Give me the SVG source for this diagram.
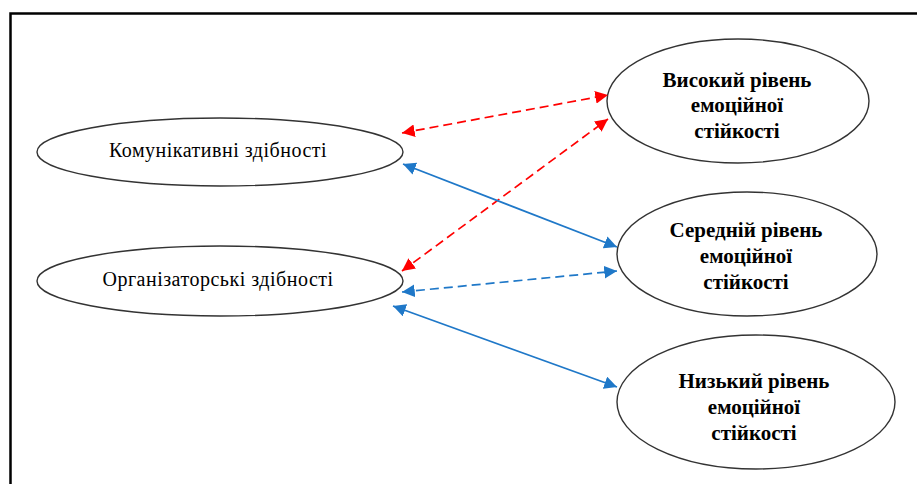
<svg xmlns="http://www.w3.org/2000/svg" width="917" height="484" viewBox="0 0 917 484">
<style>
.node{fill:#fff;stroke:#333;stroke-width:1.4}
.l{font-family:"Liberation Serif","Times New Roman","DejaVu Serif",serif;font-size:20px;letter-spacing:0.5px;fill:#000;text-anchor:middle}
.r{font-family:"Liberation Serif","Times New Roman","DejaVu Serif",serif;font-size:21px;font-weight:bold;fill:#000;text-anchor:middle}
.red{stroke:#ff0000;stroke-width:1.7;fill:none;stroke-dasharray:9 5}
.blue{stroke:#1f78c8;stroke-width:1.7;fill:none}
.bdash{stroke-dasharray:9 5}
</style>
<defs>
<marker id="ar" viewBox="0 0 10 10" refX="10" refY="5" markerWidth="7.5" markerHeight="7.5" markerUnits="strokeWidth" orient="auto-start-reverse"><path d="M0,0 L10,5 L0,10 z" fill="#ff0000"/></marker>
<marker id="ab" viewBox="0 0 10 10" refX="10" refY="5" markerWidth="7.5" markerHeight="7.5" markerUnits="strokeWidth" orient="auto-start-reverse"><path d="M0,0 L10,5 L0,10 z" fill="#1f78c8"/></marker>
</defs>
<rect width="917" height="484" fill="#fff"/>
<path d="M10.5,484 L10.5,13.5 L917,13.5" fill="none" stroke="#000" stroke-width="2.5"/>
<g id="n1"><ellipse class="node" cx="220" cy="152" rx="183" ry="34"/><text class="l" x="218" y="157">Комунікативні здібності</text></g>
<g id="n2"><ellipse class="node" cx="220" cy="281" rx="183" ry="35"/><text class="l" x="218" y="286">Організаторські здібності</text></g>
<g id="n3"><ellipse class="node" cx="738" cy="101" rx="131" ry="62"/><text class="r" x="737" y="87">Високий рівень</text><text class="r" x="737" y="112">емоційної</text><text class="r" x="737" y="138">стійкості</text></g>
<g id="n4"><ellipse class="node" cx="747" cy="254" rx="130" ry="62"/><text class="r" x="746" y="237">Середній рівень</text><text class="r" x="746" y="263">емоційної</text><text class="r" x="746" y="289">стійкості</text></g>
<g id="n5"><ellipse class="node" cx="756" cy="402" rx="139" ry="67"/><text class="r" x="754" y="388">Низький рівень</text><text class="r" x="754" y="414">емоційної</text><text class="r" x="754" y="440">стійкості</text></g>
<g id="connectors">
<line class="red" x1="402" y1="133" x2="608" y2="95" marker-start="url(#ar)" marker-end="url(#ar)"/>
<line class="red" x1="402" y1="271" x2="608" y2="119" marker-start="url(#ar)" marker-end="url(#ar)"/>
<line class="blue" x1="403" y1="164" x2="617" y2="247" marker-start="url(#ab)" marker-end="url(#ab)"/>
<line class="blue bdash" x1="402" y1="292" x2="617" y2="271" marker-start="url(#ab)" marker-end="url(#ab)"/>
<line class="blue" x1="393" y1="306" x2="617" y2="387" marker-start="url(#ab)" marker-end="url(#ab)"/>
</g>
</svg>
